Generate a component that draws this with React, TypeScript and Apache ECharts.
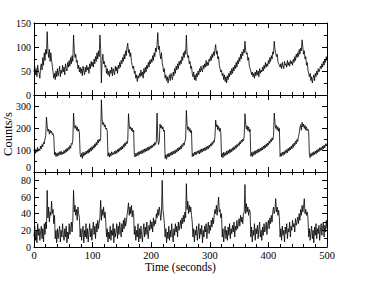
import React, { useEffect, useRef } from "react";
import * as echarts from "echarts";

const timeStep = 1.25;
const xTickLabels = [0, 100, 200, 300, 400, 500];

const countsTop = [
  48, 60, 42, 55, 38, 62, 50, 45,
  35, 58, 65, 52, 78, 62, 88, 72,
  95, 85, 132, 92, 78, 95, 70, 88,
  72, 60, 48, 35, 45, 32, 50, 38,
  55, 40, 48, 60, 38, 52, 45, 62,
  48, 58, 42, 65, 55, 50, 68, 58,
  72, 60, 78, 65, 82, 70, 125, 92,
  78, 85, 68, 72, 55, 62, 48, 58,
  45, 55, 40, 60, 50, 42, 58, 48,
  62, 52, 58, 45, 65, 55, 70, 60,
  68, 58, 75, 65, 80, 70, 88, 75,
  92, 80, 125, 95, 25, 72, 85, 65,
  70, 58, 62, 45, 55, 42, 50, 38,
  52, 45, 58, 40, 55, 48, 42, 60,
  50, 58, 45, 62, 55, 68, 58, 72,
  65, 78, 70, 85, 75, 92, 82, 100,
  108, 88, 95, 80, 88, 70, 62, 55,
  60, 45, 50, 35, 42, 28, 40, 35,
  45, 38, 52, 40, 48, 35, 55, 45,
  58, 48, 62, 55, 68, 58, 72, 65,
  75, 68, 82, 72, 88, 80, 98, 90,
  105, 130, 95, 102, 85, 75, 88, 68,
  60, 48, 55, 35, 42, 30, 38, 25,
  35, 42, 30, 45, 38, 32, 48, 40,
  55, 45, 60, 52, 65, 55, 70, 62,
  72, 65, 80, 72, 88, 78, 92, 85,
  125, 88, 78, 82, 65, 70, 55, 60,
  45, 38, 48, 32, 42, 30, 45, 38,
  50, 42, 55, 48, 60, 52, 48, 62,
  55, 65, 58, 72, 60, 68, 62, 75,
  70, 80, 72, 85, 78, 90, 82, 95,
  105, 85, 92, 75, 80, 62, 55, 48,
  52, 40, 45, 32, 42, 28, 38, 25,
  40, 32, 45, 38, 50, 42, 55, 45,
  58, 50, 62, 55, 68, 58, 72, 65,
  78, 70, 85, 75, 90, 82, 95, 88,
  112, 92, 85, 88, 72, 78, 60, 55,
  50, 42, 48, 38, 45, 35, 48, 40,
  52, 42, 50, 38, 55, 45, 52, 48,
  58, 50, 62, 55, 68, 58, 65, 60,
  72, 65, 78, 70, 82, 75, 90, 85,
  112, 95, 88, 80, 85, 70, 65, 62,
  58, 65, 55, 68, 60, 55, 70, 62,
  65, 58, 72, 62, 68, 60, 72, 65,
  70, 62, 75, 68, 80, 72, 85, 78,
  88, 80, 95, 85, 98, 92, 115, 100,
  85, 92, 75, 80, 62, 68, 52, 45,
  38, 45, 30, 38, 25, 35, 42, 30,
  45, 38, 50, 42, 55, 48, 52, 60,
  55, 65, 58, 70, 62, 75, 68, 80,
  72,
];

const countsMid = [
  95, 108, 85, 102, 90, 112, 95, 105,
  98, 118, 105, 125, 115, 135, 128, 150,
  165, 250, 210, 185, 195, 172, 190, 178,
  185, 170, 175, 162, 78, 90, 70, 85,
  72, 88, 75, 92, 80, 95, 78, 90,
  82, 98, 85, 102, 90, 108, 95, 112,
  102, 120, 108, 130, 125, 145, 268, 210,
  198, 212, 190, 205, 185, 195, 178, 80,
  68, 85, 62, 90, 72, 88, 78, 95,
  82, 98, 85, 105, 90, 110, 95, 115,
  102, 120, 108, 128, 115, 135, 122, 145,
  132, 150, 140, 155, 328, 240, 215, 225,
  205, 215, 195, 200, 185, 72, 88, 68,
  85, 72, 92, 78, 88, 80, 95, 82,
  98, 85, 102, 90, 108, 95, 112, 100,
  118, 105, 125, 112, 132, 120, 138, 128,
  145, 265, 215, 195, 205, 188, 200, 182,
  190, 75, 68, 85, 72, 88, 75, 92,
  80, 95, 82, 98, 85, 102, 88, 105,
  92, 108, 95, 112, 98, 115, 102, 118,
  108, 122, 112, 128, 118, 135, 125, 140,
  268, 150, 125, 140, 218, 200, 212, 195,
  205, 185, 190, 62, 78, 58, 82, 68,
  85, 70, 88, 75, 92, 78, 95, 82,
  98, 85, 102, 90, 108, 95, 112, 100,
  118, 105, 125, 115, 132, 122, 140, 150,
  280, 215, 192, 205, 185, 198, 178, 188,
  70, 85, 72, 90, 78, 92, 80, 95,
  85, 98, 82, 102, 88, 105, 92, 108,
  95, 110, 98, 115, 102, 118, 105, 122,
  112, 128, 118, 135, 125, 142, 135, 158,
  236, 205, 215, 192, 208, 185, 200, 180,
  68, 85, 65, 90, 72, 88, 76, 95,
  80, 98, 84, 102, 88, 105, 92, 110,
  98, 115, 102, 120, 108, 125, 115, 130,
  120, 138, 128, 145, 135, 150, 142, 165,
  265, 218, 195, 210, 188, 205, 182, 195,
  72, 88, 70, 92, 76, 95, 80, 98,
  85, 102, 88, 105, 92, 108, 96, 112,
  100, 118, 105, 122, 110, 128, 115, 132,
  122, 140, 130, 148, 138, 155, 145, 165,
  268, 220, 198, 212, 190, 205, 185, 198,
  70, 85, 72, 90, 76, 92, 80, 98,
  85, 102, 88, 108, 95, 112, 100, 118,
  105, 125, 112, 132, 120, 140, 128, 148,
  138, 160, 175, 200, 215, 190, 226, 205,
  218, 198, 212, 190, 205, 188, 195, 182,
  78, 65, 85, 72, 88, 75, 92, 80,
  95, 82, 100, 88, 105, 92, 110, 98,
  112, 100, 118, 105, 122, 110, 128, 118,
  130,
];

const countsBot = [
  12, 25, 8, 20, 5, 28, 14, 22,
  8, 18, 25, 10, 22, 6, 28, 15,
  30, 22, 68, 35, 48, 30, 42, 38,
  55, 40, 45, 28, 38, 10, 20, 5,
  22, 10, 18, 25, 6, 20, 12, 28,
  15, 8, 22, 12, 25, 5, 18, 10,
  28, 15, 22, 30, 18, 32, 68, 42,
  50, 38, 45, 32, 48, 40, 35, 12,
  22, 8, 18, 25, 5, 20, 12, 28,
  10, 22, 6, 18, 28, 12, 22, 8,
  20, 30, 15, 25, 10, 28, 18, 32,
  22, 30, 35, 56, 32, 45, 38, 48,
  35, 42, 30, 12, 22, 6, 18, 10,
  25, 8, 20, 14, 28, 5, 22, 12,
  18, 28, 10, 25, 15, 30, 20, 12,
  28, 18, 32, 22, 35, 25, 30, 38,
  45, 53, 38, 48, 40, 50, 36, 44,
  40, 15, 25, 8, 20, 12, 28, 6,
  22, 10, 25, 14, 6, 20, 28, 12,
  24, 15, 30, 18, 10, 26, 20, 32,
  22, 30, 18, 35, 25, 32, 28, 40,
  35, 45, 38, 48, 42, 32, 40, 80,
  45, 38, 28, 12, 22, 5, 18, 10,
  25, 8, 20, 12, 28, 15, 6, 22,
  14, 28, 18, 25, 12, 30, 20, 26,
  32, 22, 35, 28, 38, 30, 42, 35,
  76, 45, 55, 40, 50, 42, 48, 38,
  30, 12, 22, 6, 20, 14, 25, 8,
  18, 28, 10, 22, 15, 26, 5, 20,
  12, 25, 18, 28, 10, 22, 30, 16,
  26, 20, 32, 24, 35, 28, 38, 45,
  40, 50, 38, 48, 60, 42, 45, 35,
  40, 12, 22, 6, 18, 25, 10, 20,
  8, 24, 14, 28, 10, 22, 16, 26,
  18, 30, 12, 25, 20, 32, 22, 28,
  34, 25, 38, 30, 36, 28, 40, 42,
  75, 40, 52, 42, 48, 38, 45, 42,
  12, 24, 6, 20, 14, 28, 8, 22,
  16, 26, 10, 22, 30, 12, 20, 8,
  24, 14, 28, 18, 22, 30, 15, 26,
  32, 22, 35, 28, 38, 30, 42, 48,
  40, 45, 58, 42, 48, 38, 44, 35,
  12, 22, 8, 25, 14, 20, 6, 24,
  16, 28, 10, 22, 18, 30, 12, 25,
  20, 32, 24, 28, 18, 34, 26, 30,
  36, 28, 40, 32, 45, 38, 50, 42,
  48, 58, 40, 45, 38, 42, 35, 12,
  22, 8, 18, 25, 10, 20, 5, 24,
  14, 28, 10, 22, 16, 26, 8, 20,
  28, 14, 24, 30, 12, 26, 18, 32,
  22,
];

const FONT = "'Liberation Serif', 'DejaVu Serif', serif";

const panels = [
  { data: countsTop, max: 150, interval: 50, top: 23, height: 72, minAlign: "middle" },
  { data: countsMid, max: 350, interval: 100, top: 95, height: 77, minAlign: "bottom" },
  { data: countsBot, max: 90, interval: 20, top: 172, height: 75, minAlign: "middle" },
];

export default function App() {
  const ref = useRef<HTMLDivElement>(null);
  useEffect(() => {
    if (!ref.current) return;
    const chart = echarts.init(ref.current, null, { renderer: "svg" });
    const axisLine = { show: true, onZero: false, lineStyle: { color: "#000", width: 1 } };
    const grids: any[] = [];
    const xAxes: any[] = [];
    const yAxes: any[] = [];
    const series: any[] = [];
    panels.forEach((p, i) => {
      grids.push({ left: 34, right: 55, top: p.top, height: p.height, show: false });
      const isLast = i === panels.length - 1;
      const xBase = {
        type: "value",
        gridIndex: i,
        min: xTickLabels[0],
        max: xTickLabels[xTickLabels.length - 1],
        interval: 100,
        axisLine,
        axisTick: { show: true, inside: true, length: 5, lineStyle: { color: "#000" } },
        minorTick: { show: true, splitNumber: 5, length: 3, lineStyle: { color: "#000" } },
        splitLine: { show: false },
        minorSplitLine: { show: false },
      };
      xAxes.push({
        ...xBase,
        position: "bottom",
        axisLabel: {
          show: isLast,
          color: "#000",
          fontFamily: FONT,
          fontSize: 10.5,
          margin: 3,
        },
      });
      xAxes.push({ ...xBase, position: "top", axisLabel: { show: false } });
      const yBase = {
        type: "value",
        gridIndex: i,
        min: 0,
        max: p.max,
        interval: p.interval,
        axisLine,
        axisTick: { show: true, inside: true, length: 5, lineStyle: { color: "#000" } },
        minorTick: { show: true, splitNumber: 2, length: 3, lineStyle: { color: "#000" } },
        splitLine: { show: false },
        minorSplitLine: { show: false },
      };
      yAxes.push({
        ...yBase,
        position: "left",
        axisLabel: {
          show: true,
          color: "#000",
          fontFamily: FONT,
          fontSize: 10,
          margin: 3,
          verticalAlignMinLabel: p.minAlign,
          showMaxLabel: p.max % p.interval === 0,
        },
      });
      yAxes.push({ ...yBase, position: "right", axisLabel: { show: false } });
      series.push({
        type: "line",
        xAxisIndex: i * 2,
        yAxisIndex: i * 2,
        data: p.data.map((v, k) => [k * timeStep, v]),
        showSymbol: false,
        symbol: "none",
        lineStyle: { color: "#000", width: 0.8 },
        silent: true,
      });
    });
    chart.setOption({
      animation: false,
      backgroundColor: "#fff",
      grid: grids,
      xAxis: xAxes,
      yAxis: yAxes,
      series,
      graphic: [
        {
          type: "text",
          x: 180.5,
          y: 267,
          style: {
            text: "Time (seconds)",
            font: `11.5px ${FONT}`,
            fill: "#000",
            textAlign: "center",
            textVerticalAlign: "middle",
          },
        },
        {
          type: "text",
          x: 8,
          y: 134,
          rotation: Math.PI / 2,
          style: {
            text: "Counts/s",
            font: `12.5px ${FONT}`,
            fill: "#000",
            textAlign: "center",
            textVerticalAlign: "middle",
          },
        },
      ],
    });
    return () => chart.dispose();
  }, []);
  return (
    <div
      ref={ref}
      style={{ position: "fixed", left: 0, top: 0, width: 382, height: 295, background: "#fff" }}
    />
  );
}
